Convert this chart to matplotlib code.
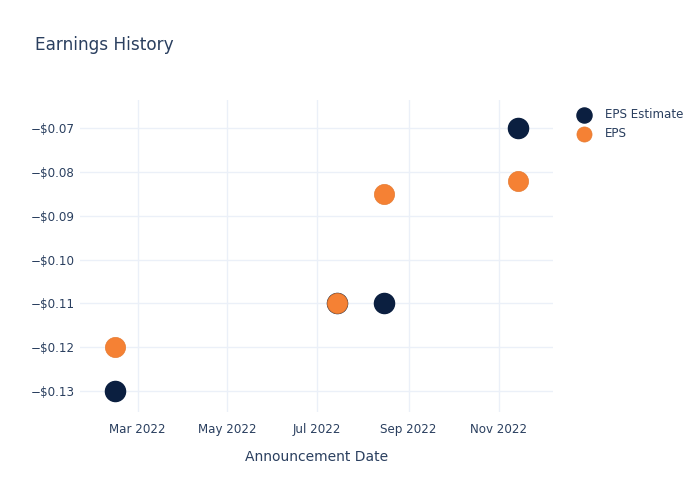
import matplotlib
matplotlib.use("Agg")
import matplotlib.pyplot as plt
import matplotlib.dates as mdates
import numpy as np
from matplotlib.ticker import FuncFormatter, FixedLocator

# data
dates = np.array(["2022-02-14", "2022-07-14", "2022-08-15", "2022-11-14"], dtype="datetime64[D]")
eps_estimate = [-0.13, -0.11, -0.11, -0.07]
eps_actual = [-0.12, -0.11, -0.085, -0.082]
y_ticks = [-0.13, -0.12, -0.11, -0.10, -0.09, -0.08, -0.07]
x_ticks = np.array(["2022-03-01", "2022-05-01", "2022-07-01", "2022-09-01", "2022-11-01"], dtype="datetime64[D]")

txt = "#2a3f5f"
grid = "#ebf0f8"

fig = plt.figure(figsize=(7, 5), dpi=100)
ax = fig.add_axes([0.1143, 0.176, 0.676, 0.624])

ax.scatter(dates, eps_estimate, s=210, color="#0b1f40", label="EPS Estimate", zorder=3)
ax.scatter(dates, eps_actual, s=210, color="#f58134", label="EPS", zorder=4,
           edgecolors="#e57a30", linewidths=0.5)

ax.set_xlim(np.datetime64("2022-01-21"), np.datetime64("2022-12-08"))
ax.set_ylim(-0.1348, -0.0636)
ax.xaxis.set_major_locator(FixedLocator(mdates.date2num(x_ticks)))
ax.xaxis.set_major_formatter(mdates.DateFormatter("%b %Y"))
ax.yaxis.set_major_locator(FixedLocator(y_ticks))
ax.yaxis.set_major_formatter(FuncFormatter(lambda v, p: ("\u2212$%.2f" % abs(v)) if v < 0 else "$%.2f" % v))

ax.grid(True, color=grid, linewidth=1)
ax.set_axisbelow(True)
for sp in ax.spines.values():
    sp.set_visible(False)
ax.tick_params(length=0, colors=txt, labelsize=8.6, pad=8)
ax.tick_params(axis="y", pad=4)

ax.set_xlabel("Announcement Date", color=txt, fontsize=10, labelpad=10)
fig.text(0.05, 0.9, "Earnings History", color=txt, fontsize=12.2)

leg = ax.legend(loc="upper left", bbox_to_anchor=(1.03, 0.99), frameon=False,
                fontsize=8.6, labelcolor=txt, handletextpad=0.75, markerscale=0.75,
                borderaxespad=0.0, labelspacing=0.55)

fig.savefig("out.png", dpi=100)
